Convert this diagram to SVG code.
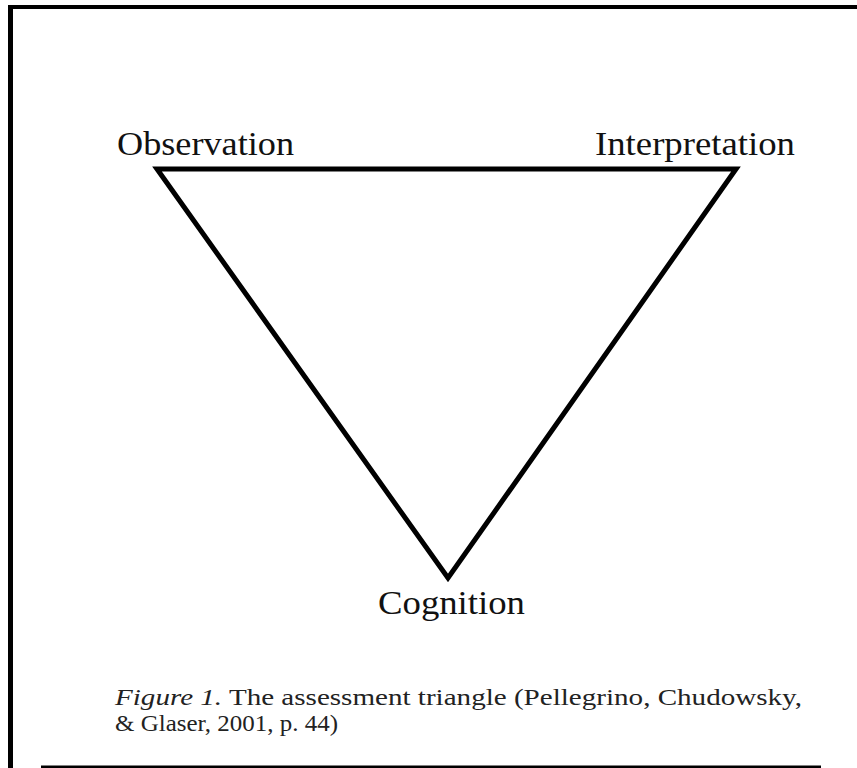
<svg xmlns="http://www.w3.org/2000/svg" width="857" height="768" viewBox="0 0 857 768">
  <style>
    .frame { stroke: #000; fill: none; }
    .label { font-family: "Liberation Serif", "Times New Roman", serif; font-size: 33px; fill: #111; }
    .caption { font-family: "Liberation Serif", "Times New Roman", serif; font-size: 24px; fill: #222; }
  </style>
  <rect width="857" height="768" fill="#fff"/>
  <g id="frame">
    <line class="frame" x1="8" y1="7" x2="857" y2="7" stroke-width="4"/>
    <line class="frame" x1="10.5" y1="5" x2="10.5" y2="768" stroke-width="5"/>
    <line class="frame" x1="41" y1="767" x2="821" y2="767" stroke-width="3"/>
  </g>
  <g id="connectors">
    <path d="M157,169 L736,169 L448,578 Z" fill="none" stroke="#000" stroke-width="5" stroke-linejoin="miter"/>
  </g>
  <g id="node-observation">
    <text class="label" x="117" y="155" textLength="177" lengthAdjust="spacingAndGlyphs">Observation</text>
  </g>
  <g id="node-interpretation">
    <text class="label" x="595" y="155" textLength="200" lengthAdjust="spacingAndGlyphs">Interpretation</text>
  </g>
  <g id="node-cognition">
    <text class="label" x="378" y="614" textLength="147" lengthAdjust="spacingAndGlyphs">Cognition</text>
  </g>
  <g id="caption">
    <text class="caption" x="115" y="705" textLength="687" lengthAdjust="spacingAndGlyphs"><tspan font-style="italic">Figure 1.</tspan> The assessment triangle (Pellegrino, Chudowsky,</text>
    <text class="caption" x="115" y="731" textLength="223" lengthAdjust="spacingAndGlyphs">&amp; Glaser, 2001, p. 44)</text>
  </g>
</svg>
